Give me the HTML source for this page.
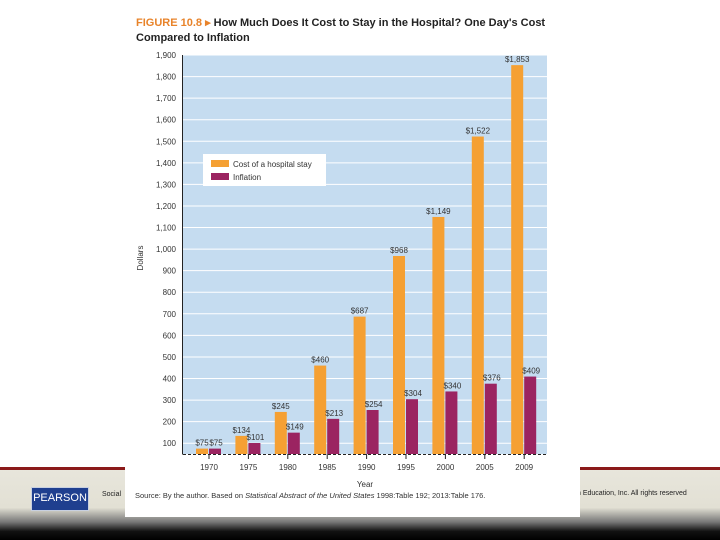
<!DOCTYPE html>
<html><head><meta charset="utf-8"><style>
body{margin:0;width:720px;height:540px;overflow:hidden;background:#fff;font-family:"Liberation Sans",sans-serif;position:relative}
</style></head><body>
<div style="position:absolute;left:0;top:468px;width:720px;height:72px;background:linear-gradient(#e8e6dc 0,#e2e0d4 55%,#777 75%,#111 88%,#000 100%)"></div>
<div style="position:absolute;left:0;top:467px;width:720px;height:3px;background:#8b1a1a"></div>
<div style="position:absolute;left:31px;top:487px;width:56px;height:22px;background:#1f3f8f;color:#fff;font-size:11px;text-align:center;line-height:20px;border:1px solid #c8d0e0">PEARSON</div>
<div style="position:absolute;left:102px;top:491px;font-size:7px;color:#222">Social</div>
<div style="position:absolute;left:577px;top:490px;font-size:7px;color:#222">n Education, Inc. All rights reserved</div>
<div style="position:absolute;left:125px;top:0;width:455px;height:517px;background:#fff"></div>
<svg width="720" height="540" style="position:absolute;left:0;top:0" id="svg"></svg>
<script>
const years=["1970","1975","1980","1985","1990","1995","2000","2005","2009"];
const cost=[75,134,245,460,687,968,1149,1522,1853];
const infl=[75,101,149,213,254,304,340,376,409];
const ticks=[100,200,300,400,500,600,700,800,900,1000,1100,1200,1300,1400,1500,1600,1700,1800,1900];
const NS="http://www.w3.org/2000/svg",svg=document.getElementById('svg');
const BASE=454;
const y=v=>BASE-(v-50)*(399/1850);
const x=i=>209+i*39.4;
function mk(t,a,txt){const e=document.createElementNS(NS,t);for(const k in a)e.setAttribute(k,a[k]);if(txt!=null)e.textContent=txt;svg.appendChild(e);return e;}
let e;
e=mk('text',{x:136,y:26,'font-size':11,'font-weight':'bold',fill:'#222'});

e.innerHTML='<tspan fill="#e8832a">FIGURE 10.8 ▸</tspan> How Much Does It Cost to Stay in the Hospital? One Day\'s Cost';
e=mk('text',{x:136,y:41,'font-size':11,'font-weight':'bold',fill:'#222'},"Compared to Inflation");

e=mk('rect',{x:183,y:55,width:364,height:BASE-55,fill:'#c5dcf0'});

ticks.forEach(t=>{
 e=mk('line',{x1:183,x2:547,y1:y(t),y2:y(t),stroke:'#fff','stroke-width':1});
 
 e=mk('text',{x:176,y:y(t)+3,'font-size':8,'text-anchor':'end',fill:'#333'},t.toLocaleString('en-US'));
 
});
e=mk('line',{x1:182.5,x2:182.5,y1:55,y2:BASE+0.5,stroke:'#222'});

e=mk('rect',{x:203,y:154,width:123,height:32,fill:'#fff'});

e=mk('rect',{x:211,y:160,width:18,height:7,fill:'#f5a033'});

e=mk('text',{x:233,y:167,'font-size':8,fill:'#333'},'Cost of a hospital stay');

e=mk('rect',{x:211,y:173,width:18,height:7,fill:'#9b2461'});

e=mk('text',{x:233,y:180,'font-size':8,fill:'#333'},'Inflation');

years.forEach((yr,i)=>{
 const cx=x(i);
 e=mk('rect',{x:cx-13,y:y(cost[i]),width:12,height:BASE-y(cost[i]),fill:'#f5a033'});
 
 e=mk('rect',{x:cx,y:y(infl[i]),width:12,height:BASE-y(infl[i]),fill:'#9b2461'});
 
 e=mk('text',{x:cx-7,y:y(cost[i])-3,'font-size':8,'text-anchor':'middle',fill:'#333'},'$'+cost[i].toLocaleString('en-US'));
 
 e=mk('text',{x:cx+7,y:y(infl[i])-3,'font-size':8,'text-anchor':'middle',fill:'#333'},'$'+infl[i]);
 
 e=mk('line',{x1:cx,x2:cx,y1:BASE,y2:BASE+5,stroke:'#222'});
 
 e=mk('text',{x:cx,y:470,'font-size':8,'text-anchor':'middle',fill:'#333'},yr);
 
});
e=mk('line',{x1:183,x2:547,y1:BASE+0.5,y2:BASE+0.5,stroke:'#222','stroke-dasharray':'3,2'});

e=mk('text',{x:365,y:487,'font-size':8,'text-anchor':'middle',fill:'#333'},'Year');

e=mk('text',{x:143,y:258,'font-size':8,'text-anchor':'middle',fill:'#333',transform:'rotate(-90 143 258)'},'Dollars');

e=mk('text',{x:135,y:498,'font-size':7.5,fill:'#333'});
e.innerHTML='Source: By the author. Based on <tspan font-style="italic">Statistical Abstract of the United States</tspan> 1998:Table 192; 2013:Table 176.';

</script>
</body></html>
